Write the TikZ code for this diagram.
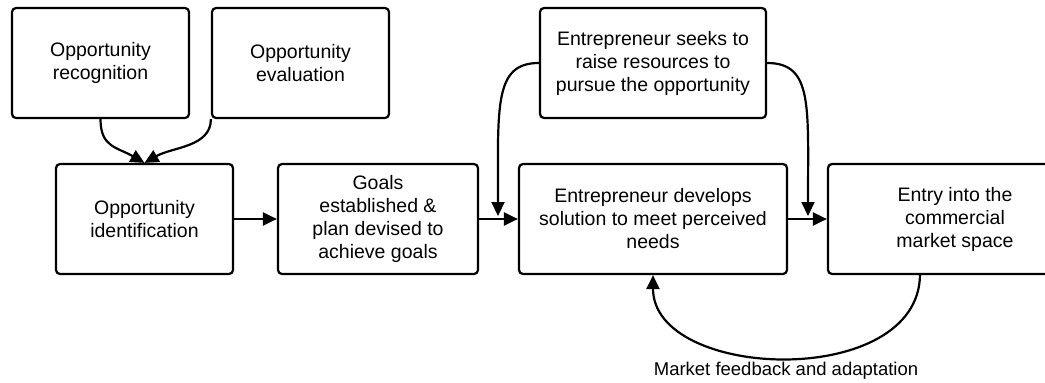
\documentclass[tikz,border=0pt]{standalone}
\usepackage{fontspec}
\setmainfont{Liberation Sans}
\usepackage{tikz}
\usetikzlibrary{arrows.meta}
\begin{document}
\begin{tikzpicture}[x=1pt, y=-1pt,
box/.style={draw, line width=2.2pt, rounded corners=4pt, align=center, inner sep=0pt, font=\fontsize{19.5}{23}\selectfont},
arr/.style={line width=2.2pt, -{Triangle[length=14pt, width=13pt]}}]
\useasboundingbox (0,0) rectangle (1045,383);
\clip (0,0) rectangle (1045,383);
\node[box, minimum width=177pt, minimum height=110pt] (recog) at (100.5,63) {Opportunity\\recognition};
\node[box, minimum width=177pt, minimum height=110pt] (eval) at (300.5,63) {Opportunity\\evaluation};
\node[box, minimum width=177pt, minimum height=110pt] (ident) at (144.5,219) {Opportunity\\identification};
\node[box, minimum width=200pt, minimum height=110pt] (goals) at (378,219) {Goals\\established \&\\plan devised to\\achieve goals};
\node[box, minimum width=226pt, minimum height=110pt] (raise) at (653,63) {Entrepreneur seeks to\\raise resources to\\pursue the opportunity};
\node[box, minimum width=268pt, minimum height=110pt] (solve) at (653,219) {Entrepreneur develops\\solution to meet perceived\\needs};
\node[box, minimum width=254pt, minimum height=110pt] (entry) at (955,219) {Entry into the\\commercial\\market space};
\node[font=\fontsize{18.5}{22}\selectfont] (feedback) at (786,371) {Market feedback and adaptation};
\coordinate (left in) at (498,216);
\coordinate (right in) at (808,216);
\coordinate (entry out) at (920,274);
% main line
\draw[arr] (ident) -- (goals);
\draw[arr] (goals) -- (solve);
\draw[arr] (solve) -- (entry);
% merging into identification
\draw[arr] (recog.south) .. controls +(0,28) and +(-28,-16) .. (ident.north);
\draw[arr] (eval.south west) .. controls +(0,28) and +(28,-16) .. (ident.north);
% resources
\draw[arr] (raise.west) .. controls +(-45,0) and +(0,-110) .. (left in);
\draw[arr] (raise.east) .. controls +(46,0) and +(0,-110) .. (right in);
% feedback loop
\draw[arr] (entry out) .. controls +(0,116) and +(0,106) .. (solve.south);
\end{tikzpicture}
\end{document}
